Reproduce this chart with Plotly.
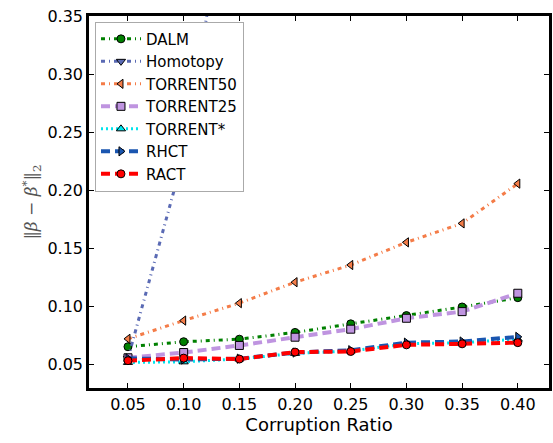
import plotly.graph_objects as go

ratios = [0.05, 0.10, 0.15, 0.20, 0.25, 0.30, 0.35, 0.40]
dalm = [0.0655, 0.0698, 0.0720, 0.0778, 0.0852, 0.0923, 0.0997, 0.1077]
homotopy = [0.0555, 0.2300, 0.5200, 0.8000, 1.1000, 1.4000, 1.7000, 2.0000]
torrent50 = [0.0723, 0.0880, 0.1030, 0.1210, 0.1358, 0.1553, 0.1716, 0.2058]
torrent25 = [0.0560, 0.0605, 0.0666, 0.0737, 0.0806, 0.0900, 0.0957, 0.1115]
torrent_star = [0.0520, 0.0525, 0.0550, 0.0598, 0.0618, 0.0680, 0.0690, 0.0720]
rhct = [0.0555, 0.0545, 0.0552, 0.0605, 0.0625, 0.0690, 0.0700, 0.0740]
ract = [0.0535, 0.0557, 0.0549, 0.0609, 0.0614, 0.0671, 0.0680, 0.0690]

x_ticks = [0.05, 0.10, 0.15, 0.20, 0.25, 0.30, 0.35, 0.40]
y_ticks = [0.05, 0.10, 0.15, 0.20, 0.25, 0.30, 0.35]

series = [
    ("DALM", dalm, "#008000", "circle", "4px,4px,1px,4px", 3),
    ("Homotopy", homotopy, "#5a6ab4", "triangle-down", "4px,4px,1px,4px", 3),
    ("TORRENT50", torrent50, "#f47c48", "triangle-left", "4px,4px,1px,4px", 3),
    ("TORRENT25", torrent25, "#bf94e0", "square", "9px,5px", 4),
    ("TORRENT*", torrent_star, "#00e5ee", "triangle-up", "2px,3px", 3),
    ("RHCT", rhct, "#1a56b0", "triangle-right", "9px,5px", 4),
    ("RACT", ract, "#ff0000", "circle", "9px,5px", 4),
]

fig = go.Figure()
for name, vals, color, sym, dash, w in series:
    fig.add_trace(go.Scatter(
        x=ratios, y=vals, name=name, mode="lines+markers",
        line=dict(color=color, width=w, dash=dash),
        marker=dict(symbol=sym, size=8, color=color,
                    line=dict(color="black", width=1)),
        cliponaxis=True,
    ))

axis_common = dict(
    showline=True, linecolor="black", linewidth=2.5, mirror="ticks",
    ticks="inside", ticklen=5, tickcolor="black", tickwidth=1,
    showgrid=False, zeroline=False,
    tickfont=dict(family="DejaVu Sans", size=16, color="black"),
)

fig.update_layout(
    width=553, height=443,
    margin=dict(l=89, r=1, t=16, b=55),
    paper_bgcolor="white", plot_bgcolor="white",
    font=dict(family="DejaVu Sans", color="black"),
    xaxis=dict(range=[0.015, 0.428], tickvals=x_ticks,
               ticktext=[f"{v:.2f}" for v in x_ticks],
               title=dict(text="Corruption Ratio", standoff=3,
                          font=dict(family="DejaVu Sans", size=18)),
               **axis_common),
    yaxis=dict(range=[0.03, 0.35], tickvals=y_ticks,
               ticktext=[f"{v:.2f}" for v in y_ticks],
               title=dict(text="‖<i>β</i> − <i>β</i><sup>*</sup>‖<sub>2</sub>", standoff=6,
                          font=dict(family="DejaVu Serif", size=17, color="#555")),
               **axis_common),
    legend=dict(x=0.013, y=0.985, xanchor="left", yanchor="top",
                bgcolor="white", bordercolor="#aaaaaa", borderwidth=1,
                font=dict(family="DejaVu Sans", size=15),
                tracegroupgap=0, itemwidth=40),
    showlegend=True,
)

fig.write_html("out.html")
